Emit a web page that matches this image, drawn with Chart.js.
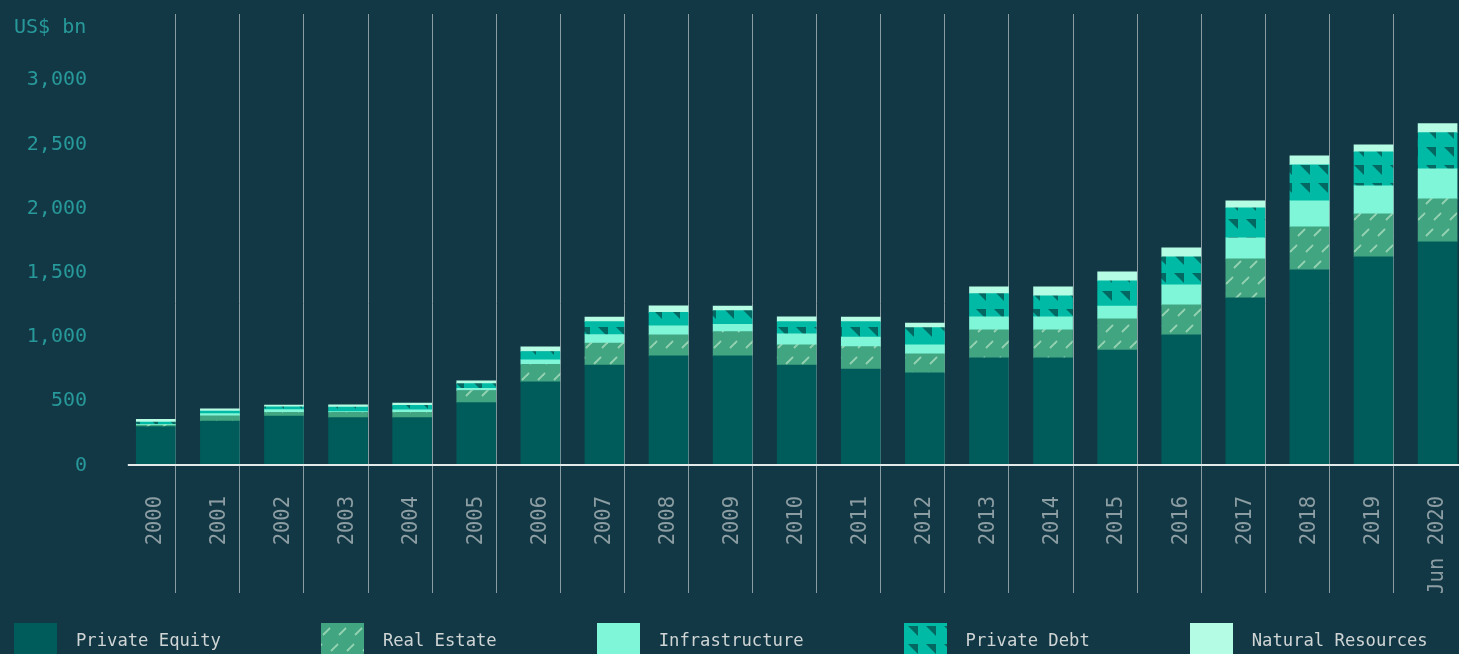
<!DOCTYPE html>
<html><head><meta charset="utf-8">
<script src="https://cdn.jsdelivr.net/npm/chart.js@4.4.1/dist/chart.umd.min.js"></script>
<style>
html,body{margin:0;padding:0;background:#133845;overflow:hidden;width:1459px;height:654px;}
#wrap{position:relative;width:1459px;height:654px;overflow:hidden;}
#c{display:block;}
#legend{position:absolute;left:14px;top:623px;display:flex;white-space:nowrap;font-family:"DejaVu Sans Mono",monospace;font-size:17.2px;color:#cfd5d5;}
.item{display:flex;align-items:flex-start;margin-right:100px;}
.item canvas{width:43px;height:40px;margin-right:19px;display:block;}
.item span{line-height:34px;}
</style></head>
<body><div id="wrap"><canvas id="c" width="1459" height="654"></canvas><div id="legend"></div></div>
<script>
const categories = ['2000','2001','2002','2003','2004','2005','2006','2007','2008','2009','2010','2011','2012','2013','2014','2015','2016','2017','2018','2019','Jun 2020'];
const privateEquity    = [291, 335, 374, 361, 361, 478, 639, 771, 842, 842, 771, 740, 709, 826, 826, 888, 1005, 1293, 1511, 1613, 1730];
const realEstate       = [13, 41, 29, 42, 42, 94, 138, 171, 164, 189, 156, 174, 148, 218, 218, 242, 234, 304, 335, 335, 335];
const infrastructure   = [5, 16, 20, 5, 18, 18, 34, 65, 70, 57, 86, 75, 70, 101, 101, 99, 156, 164, 203, 218, 234];
const privateDebt      = [18, 21, 23, 36, 36, 36, 65, 101, 104, 106, 96, 119, 135, 182, 164, 197, 218, 234, 281, 265, 281];
const naturalResources = [21, 16, 13, 16, 18, 21, 36, 36, 52, 36, 36, 36, 36, 52, 70, 70, 70, 55, 70, 55, 70];
const seriesNames = ['Private Equity','Real Estate','Infrastructure','Private Debt','Natural Resources'];
const yTickValues = [0, 500, 1000, 1500, 2000, 2500, 3000];
const yUnitLabel = 'US$ bn';

const FONT = '"DejaVu Sans Mono", monospace';

function hatchTile(){
  const t = document.createElement('canvas'); t.width = 16; t.height = 32;
  const g = t.getContext('2d');
  g.fillStyle = '#42a582'; g.fillRect(0,0,16,32);
  g.strokeStyle = '#94d3b2'; g.lineWidth = 1.8; g.lineCap = 'butt';
  g.beginPath(); g.moveTo(2,12); g.lineTo(9,5); g.stroke();
  g.beginPath(); g.moveTo(10,28); g.lineTo(17,21); g.stroke();
  g.beginPath(); g.moveTo(-6,28); g.lineTo(1,21); g.stroke();
  return t;
}
function triTile(){
  const t = document.createElement('canvas'); t.width = 18; t.height = 18;
  const g = t.getContext('2d');
  g.fillStyle = '#00baa5'; g.fillRect(0,0,18,18);
  g.fillStyle = '#036862';
  g.beginPath(); g.moveTo(4,3); g.lineTo(14,3); g.lineTo(14,13); g.closePath(); g.fill();
  return t;
}
const ctx = document.getElementById('c').getContext('2d');
const hatch = ctx.createPattern(hatchTile(), 'repeat');
const tri = ctx.createPattern(triTile(), 'repeat');
const fills = ['#005c5a', hatch, '#80f6d8', tri, '#b4fde4'];
const seriesData = [privateEquity, realEstate, infrastructure, privateDebt, naturalResources];

const gridPlugin = {
  id: 'bandGrid',
  beforeDatasetsDraw(chart){
    const c = chart.ctx, meta = chart.getDatasetMeta(0);
    const top = chart.chartArea.top - 0.5, bottom = chart.scales.x.bottom;
    c.save();
    c.strokeStyle = 'rgba(255,255,255,0.5)'; c.lineWidth = 1;
    meta.data.forEach((bar, i) => {
      if (i === meta.data.length - 1) return;
      const p = bar.getProps(['x','width'], true);
      const x = Math.round(p.x + p.width/2) + 0.5;
      c.beginPath(); c.moveTo(x, top); c.lineTo(x, bottom); c.stroke();
    });
    c.restore();
  },
  afterDatasetsDraw(chart){
    const c = chart.ctx, y = chart.scales.y;
    const y0 = y.getPixelForValue(0);
    c.save();
    c.fillStyle = '#e3eaea';
    c.fillRect(chart.chartArea.left - 28, y0, chart.width, 2);
    c.font = '20px ' + FONT; c.fillStyle = '#27999a';
    c.textAlign = 'left'; c.textBaseline = 'middle';
    c.fillText(yUnitLabel, 14, y.getPixelForValue(y.max) + 13);
    c.restore();
  }
};

new Chart(ctx, {
  type: 'bar',
  data: {
    labels: categories,
    datasets: seriesNames.map((n, i) => ({
      label: n, data: seriesData[i], backgroundColor: fills[i], borderWidth: 0,
      barThickness: 39, clip: false
    }))
  },
  options: {
    responsive: false, animation: false, events: [],
    layout: { padding: { top: 14.5, right: 21.4, bottom: 61, left: 0 } },
    plugins: { legend: { display: false }, tooltip: { enabled: false } },
    scales: {
      x: {
        stacked: true, offset: false,
        grid: { display: false, drawTicks: false }, border: { display: false },
        ticks: { autoSkip: false, minRotation: 90, maxRotation: 90, padding: 32,
                 color: '#8c9ea3', font: { family: FONT, size: 20.5 } },
        afterFit(s){ s.height = 129; s.paddingLeft = 0; s.paddingRight = 0; }
      },
      y: {
        stacked: true, min: 0, max: 3500,
        grid: { display: false, drawTicks: false }, border: { display: false },
        afterBuildTicks(s){ s.ticks = yTickValues.concat([3500]).map(v => ({ value: v })); },
        ticks: { padding: 68.8, labelOffset: 1.5, color: '#27999a', font: { family: FONT, size: 20 },
                 callback: v => v === 3500 ? '' : v.toLocaleString('en-US') },
        afterFit(s){ s.width = 155.8; s.paddingTop = 0; s.paddingBottom = 0; }
      }
    }
  },
  plugins: [gridPlugin]
});

const legend = document.getElementById('legend');
seriesNames.forEach((n, i) => {
  const item = document.createElement('div'); item.className = 'item';
  const b = document.createElement('canvas'); b.width = 43; b.height = 40;
  const g = b.getContext('2d');
  g.fillStyle = i === 1 ? g.createPattern(hatchTile(), 'repeat') : i === 3 ? g.createPattern(triTile(), 'repeat') : fills[i];
  g.fillRect(0, 0, 43, 40);
  const s = document.createElement('span'); s.textContent = n;
  item.appendChild(b); item.appendChild(s); legend.appendChild(item);
});
</script>
</body></html>
